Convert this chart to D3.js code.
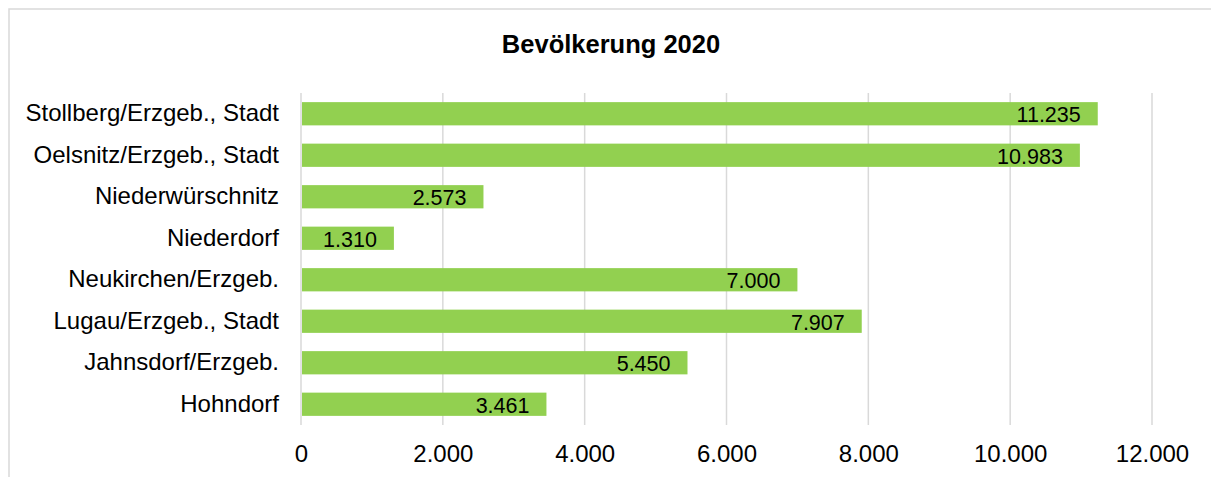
<!DOCTYPE html>
<html><head><meta charset="utf-8">
<script src="https://cdn.jsdelivr.net/npm/d3@7"></script>
<style>html,body{margin:0;padding:0;background:#fff;}svg{display:block;font-family:"Liberation Sans",Arial,sans-serif;}</style>
</head><body>
<svg id="c" width="1211" height="477"></svg>
<script>
const categories = ["Stollberg/Erzgeb., Stadt","Oelsnitz/Erzgeb., Stadt","Niederwürschnitz","Niederdorf","Neukirchen/Erzgeb.","Lugau/Erzgeb., Stadt","Jahnsdorf/Erzgeb.","Hohndorf"];
const values = [11235,10983,2573,1310,7000,7907,5450,3461];
const xTicks = [0,2000,4000,6000,8000,10000,12000];
const title = "Bevölkerung 2020";

(function(){
const svg = d3.select("#c");
svg.append("rect").attr("x",9).attr("y",9).attr("width",1230).attr("height",500)
  .attr("fill","#fff").attr("stroke","#d9d9d9").attr("stroke-width",1.5);

const pl=301, pr=1152, pt=93, pb=425;
const fmt = v => d3.format(",")(v).replace(/,/g,".");
const x = d3.scaleLinear().domain([0,12000]).range([pl,pr]);
const y = d3.scaleBand().domain(categories).range([pt,pb]).paddingInner(0.44).paddingOuter(0.22);

svg.append("text").attr("x",611).attr("y",53).attr("text-anchor","middle")
  .attr("font-weight","bold").attr("font-size",25.5).text(title);

const g = svg.append("g");
g.selectAll("line.grid").data(xTicks).join("line").attr("class","grid")
  .attr("x1",d=>x(d)).attr("x2",d=>x(d)).attr("y1",pt).attr("y2",pb)
  .attr("stroke","#d9d9d9").attr("stroke-width",1.5);

g.selectAll("rect.bar").data(values).join("rect").attr("class","bar")
  .attr("x",x(0)+1).attr("y",(d,i)=>y(categories[i]))
  .attr("width",d=>x(d)-x(0)-1).attr("height",y.bandwidth()).attr("fill","#92d050");

g.selectAll("text.val").data(values).join("text").attr("class","val")
  .attr("x",d=>x(d)-17).attr("y",(d,i)=>y(categories[i])+y.bandwidth()/2)
  .attr("dy","0.4em").attr("text-anchor","end").attr("font-size",21.5).attr("fill","#000").text(d=>fmt(d));

const yAxis = d3.axisLeft(y).tickSize(0).tickPadding(22);
const ya = svg.append("g").attr("transform",`translate(${pl},0)`).call(yAxis);
ya.select(".domain").remove();
ya.selectAll("text").attr("font-size",24).attr("fill","#000").attr("font-family","Liberation Sans, Arial, sans-serif");

const xAxis = d3.axisBottom(x).tickValues(xTicks).tickSize(0).tickPadding(20).tickFormat(fmt);
const xa = svg.append("g").attr("transform",`translate(0,${pb})`).call(xAxis);
xa.select(".domain").remove();
xa.selectAll("text").attr("font-size",24).attr("fill","#000").attr("font-family","Liberation Sans, Arial, sans-serif");
})();
</script>
</body></html>
